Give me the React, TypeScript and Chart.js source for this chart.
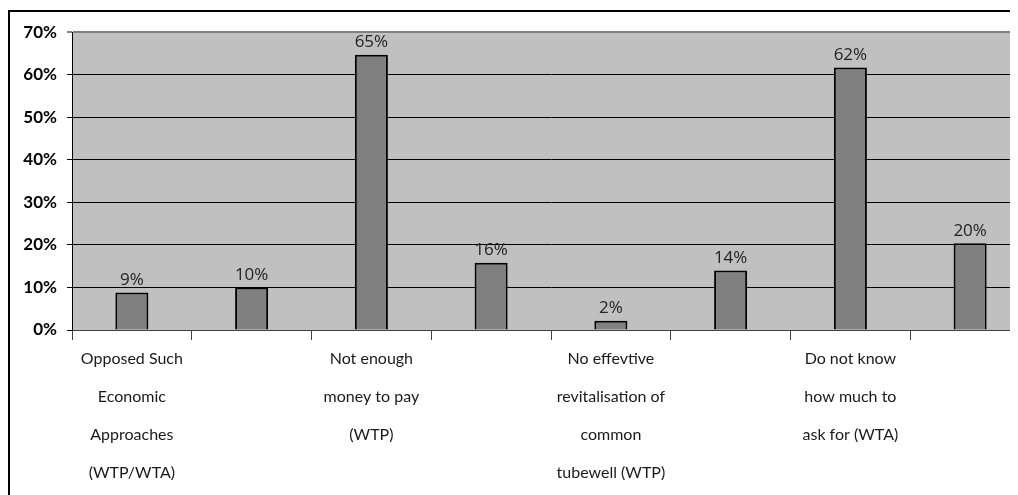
import { useEffect, useRef } from "react";
import { Chart, registerables } from "chart.js";

Chart.register(...registerables);

const categories: (string | string[])[] = [
  ["Opposed Such", "Economic", "Approaches", "(WTP/WTA)"],
  "",
  ["Not enough", "money to pay", "(WTP)"],
  "",
  ["No effevtive", "revitalisation of", "common", "tubewell (WTP)"],
  "",
  ["Do not know", "how much to", "ask for (WTA)"],
  "",
];
const values = [8.8, 10.0, 64.7, 15.8, 2.2, 14.0, 61.7, 20.4];
const yMin = 0;
const yMax = 70;
const yStep = 10;

const FONT = "Lato, 'Open Sans', sans-serif";
const LABEL_FONT = "'Open Sans', Lato, sans-serif";

export default function App() {
  const ref = useRef<HTMLCanvasElement | null>(null);

  useEffect(() => {
    if (!ref.current) return;
    const bgPlugin = {
      id: "plotBg",
      beforeDraw(chart: any) {
        const { ctx, chartArea } = chart;
        ctx.save();
        ctx.fillStyle = "#c0c0c0";
        ctx.fillRect(chartArea.left, chartArea.top, chartArea.right - chartArea.left, chartArea.bottom - chartArea.top);
        ctx.restore();
      },
    };
    const labelPlugin = {
      id: "barLabels",
      afterDatasetsDraw(chart: any) {
        const { ctx } = chart;
        const meta = chart.getDatasetMeta(0);
        ctx.save();
        ctx.font = `17px ${LABEL_FONT}`;
        ctx.fillStyle = "#222222";
        ctx.textAlign = "center";
        ctx.textBaseline = "bottom";
        meta.data.forEach((el: any, i: number) => {
          ctx.fillText(Math.round(values[i]) + "%", el.x, el.y - 4);
        });
        ctx.restore();
      },
    };
    const chart = new Chart(ref.current, {
      type: "bar",
      data: {
        labels: categories,
        datasets: [
          {
            data: values,
            backgroundColor: "#808080",
            borderColor: "#000000",
            borderWidth: 2,
            barPercentage: 0.276,
            categoryPercentage: 1.0,
          },
        ],
      },
      options: {
        responsive: false,
        animation: false,
        events: [],
        layout: { padding: { top: 17, right: 10, bottom: 2, left: 0 } },
        plugins: {
          legend: { display: false },
          tooltip: { enabled: false },
        },
        scales: {
          x: {
            afterFit(scale: any) {
              scale.height = 170;
            },
            grid: {
              display: true,
              drawOnChartArea: false,
              drawTicks: true,
              tickLength: 10,
              color: "#404040",
            },
            border: { display: true, color: "#404040", width: 1 },
            ticks: {
              autoSkip: false,
              maxRotation: 0,
              minRotation: 0,
              padding: 0,
              color: "#1a1a1a",
              font: { family: FONT, size: 16, lineHeight: 2.375 },
            },
          },
          y: {
            min: yMin,
            max: yMax,
            afterFit(scale: any) {
              scale.width = 62;
            },
            grid: {
              color: (c: any) => (c.tick && c.tick.value === yMax ? "#808080" : "#000000"),
              lineWidth: (c: any) => (c.tick && c.tick.value === yMax ? 2 : 1),
              tickLength: 5,
              drawTicks: true,
            },
            border: { display: true, color: "#000000", width: 1 },
            ticks: {
              stepSize: yStep,
              padding: 10,
              color: "#000000",
              font: { family: FONT, size: 17, weight: "bold" },
              callback: (v: any) => v + "%",
            },
          },
        },
      },
      plugins: [bgPlugin, labelPlugin],
    });
    return () => chart.destroy();
  }, []);

  return (
    <div style={{ width: 1010, height: 487, overflow: "hidden" }}>
      <div
        style={{
          marginTop: 2,
          width: 1034,
          height: 500,
          border: "2px solid #000",
          boxSizing: "border-box",
        }}
      >
        <canvas ref={ref} width={1030} height={490} style={{ display: "block", width: 1030, height: 490 }} />
      </div>
    </div>
  );
}
